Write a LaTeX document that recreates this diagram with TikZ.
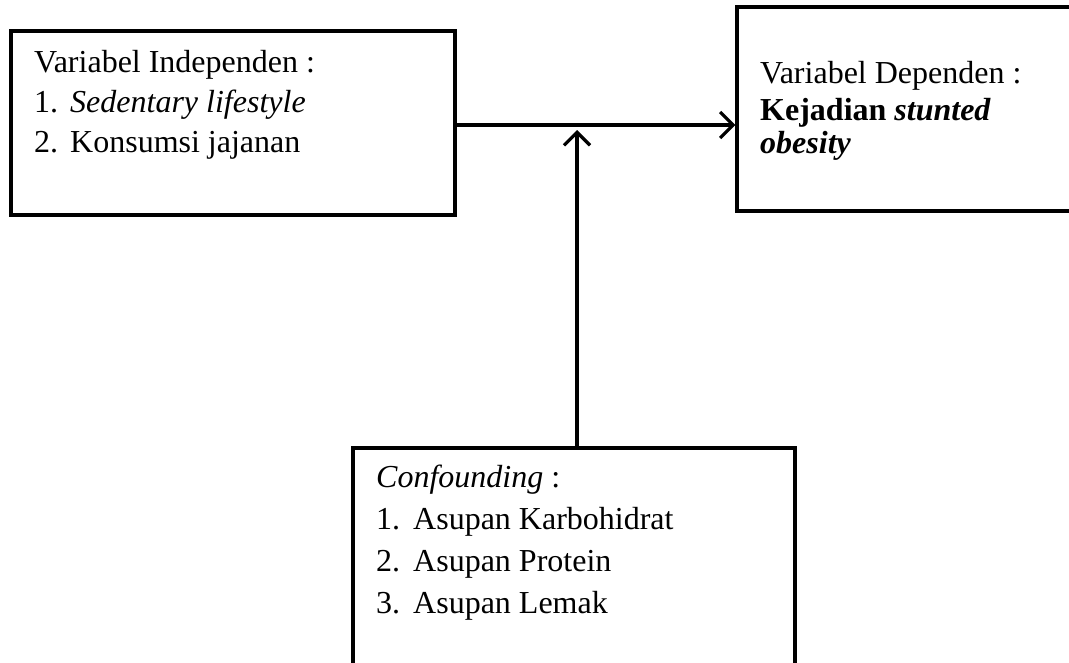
\documentclass[tikz,border=0pt]{standalone}
\usepackage{fontspec}
\setmainfont{Liberation Serif}
\usetikzlibrary{arrows.meta}
\begin{document}
\begin{tikzpicture}[x=1pt,y=-1pt,
  box/.style={draw, line width=3.2pt, rectangle, inner sep=0pt},
  txt/.style={anchor=base west, inner sep=0pt, font=\fontsize{32}{40}\selectfont},
  conn/.style={line width=3.2pt, -{Straight Barb[length=13pt,width=26pt,line width=3.2pt]}}]
\useasboundingbox (0,0) rectangle (1069,662);
% boxes
\node[box, minimum width=444pt, minimum height=184pt] (L) at (233,123) {};
\node[box, minimum width=353pt, minimum height=204pt] (R) at (913.5,109) {};
\node[box, minimum width=442pt, minimum height=242pt] (B) at (574,569) {};
% left text
\node[txt] (l1) at (34,72) {Variabel Independen :};
\node[txt] (l2n) at (34,112) {1.};
\node[txt] (l2) at (70,112) {\itshape Sedentary lifestyle};
\node[txt] (l3n) at (34,152) {2.};
\node[txt] (l3) at (70,152) {Konsumsi jajanan};
% right text
\node[txt] (r1) at (760,83) {Variabel Dependen :};
\node[txt] (r2) at (760,120) {\bfseries Kejadian \itshape stunted};
\node[txt] (r3) at (760,153) {\bfseries\itshape obesity};
% bottom text
\node[txt] (b1) at (376,487) {\itshape Confounding\upshape{} :};
\node[txt] (b2n) at (376,529) {1.};
\node[txt] (b2) at (413,529) {Asupan Karbohidrat};
\node[txt] (b3n) at (376,571) {2.};
\node[txt] (b3) at (413,571) {Asupan Protein};
\node[txt] (b4n) at (376,613) {3.};
\node[txt] (b4) at (413,613) {Asupan Lemak};
% connectors
\coordinate (m) at (577,125);
\coordinate (mt) at (577,130);
\draw[conn] (L.east |- m) -- (R.west |- m);
\draw[conn] (B.north -| mt) -- (mt);
\end{tikzpicture}
\end{document}
